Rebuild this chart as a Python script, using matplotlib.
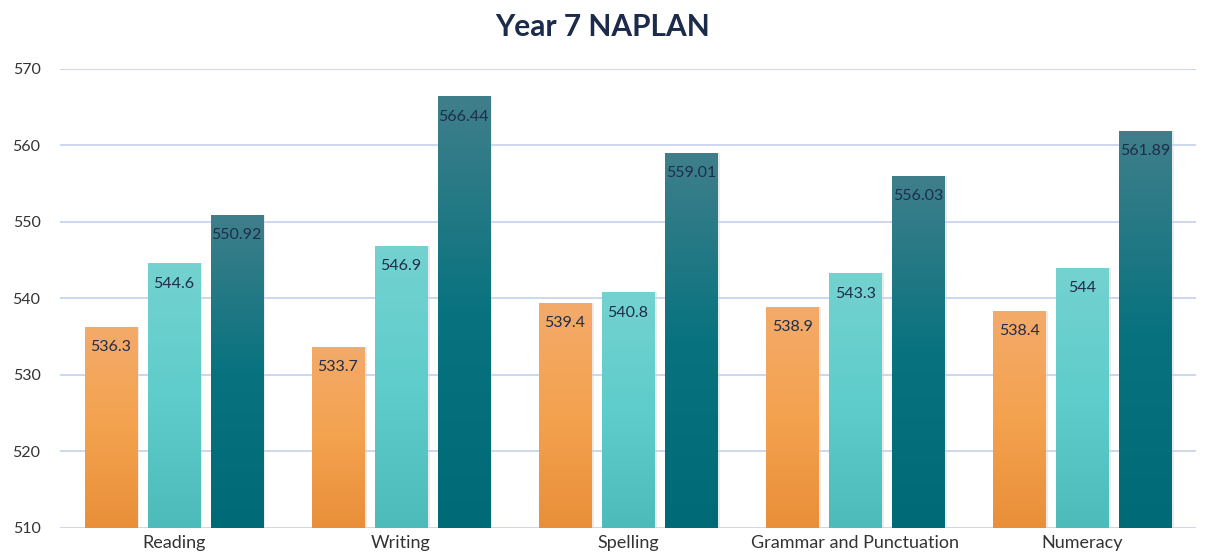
import numpy as np
import matplotlib.pyplot as plt
from matplotlib.colors import LinearSegmentedColormap

# categories and the three series (no legend in source)
categories = ["Reading", "Writing", "Spelling", "Grammar and Punctuation", "Numeracy"]
series_a = [536.3, 533.7, 539.4, 538.9, 538.4]
series_b = [544.6, 546.9, 540.8, 543.3, 544]
series_c = [550.92, 566.44, 559.01, 556.03, 561.89]
y_ticks = [510, 520, 530, 540, 550, 560, 570]

plt.rcParams['font.family'] = ['Lato', 'DejaVu Sans']

# top -> bottom gradient colours for each series
gradients = [
    ["#F3AA6A", "#F4A24E", "#E98F3A"],
    ["#74D2D0", "#5ECDCB", "#4CBBB9"],
    ["#3F7F8B", "#08737F", "#006B76"],
]

fig = plt.figure(figsize=(12.05, 5.59), dpi=100)
ax = fig.add_axes([0.0498, 0.0555, 0.9427, 0.8211])

x = np.arange(len(categories))
width = 0.229
pitch = 0.277
base = y_ticks[0]

for i, (vals, grad) in enumerate(zip([series_a, series_b, series_c], gradients)):
    cmap = LinearSegmentedColormap.from_list(f"g{i}", grad[::-1])
    pos = x + (i - 1) * pitch
    bars = ax.bar(pos, np.array(vals) - base, width, bottom=base,
                  color=grad[1], zorder=2)
    for b, v in zip(bars, vals):
        x0, y0 = b.get_x(), b.get_y()
        w, h = b.get_width(), b.get_height()
        # soft shadow
        ax.bar(x0 + w / 2 + 0.012, h, w, bottom=y0, color="#000000",
               alpha=0.08, zorder=1.5)
        grad_img = np.linspace(0, 1, 256).reshape(-1, 1)
        im = ax.imshow(grad_img, cmap=cmap, origin="lower", aspect="auto",
                       extent=(x0, x0 + w, y0, y0 + h), zorder=2.1)
        im.set_clip_path(b)
        ax.text(x0 + w / 2, v - 1.75, f"{v:g}", ha="center", va="top",
                fontsize=11.5, color="#1F2D4A", zorder=3)

ax.set_xlim(-0.5, len(categories) - 0.5)
ax.set_ylim(510, 570)
ax.set_yticks(y_ticks)
ax.set_xticks(x)
ax.set_xticklabels(categories, fontsize=13, color="#333333")
ax.tick_params(axis="y", labelsize=11.5, labelcolor="#333333", length=0, pad=14)
ax.tick_params(axis="x", length=0, pad=5)
ax.grid(axis="y", color="#CCD6EE", linewidth=1.4, zorder=0)
for s in ax.spines.values():
    s.set_visible(False)

fig.text(0.5, 0.952, "Year 7 NAPLAN", ha="center", va="center",
         fontsize=21.5, fontweight="bold", color="#1B2B4B")

fig.savefig("out.png", dpi=100)
